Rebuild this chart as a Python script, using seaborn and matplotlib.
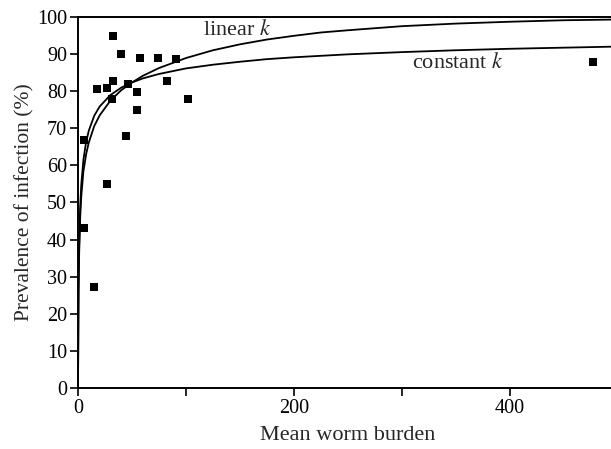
import matplotlib
matplotlib.use("Agg")
import matplotlib.pyplot as plt
import seaborn as sns
import pandas as pd

# Observed data (mean worm burden, prevalence %)
burden = [32.8, 40, 57.7, 74.4, 90.5, 17.4, 26.7, 32.8, 31.9, 46.5,
          54.9, 54.2, 82.5, 101.4, 44, 5.9, 27, 5.9, 15.2, 477]
prevalence = [95, 90, 88.9, 88.9, 88.8, 80.6, 81, 82.9, 78, 82.1,
              79.9, 75, 82.9, 78, 68, 67, 55.1, 43.1, 27.2, 88]

# Fitted curves
curve_x = [0, 0.5, 1, 2, 3, 5, 7.5, 10, 15, 20, 30, 40, 50, 60, 75, 100, 125,
           150, 175, 200, 225, 250, 300, 350, 400, 450, 500]
constant_k = [0, 26.7, 37.7, 48.6, 54.7, 61.5, 66.3, 69.4, 73.4, 75.9, 79.0, 81.0,
              82.4, 83.5, 84.7, 86.2, 87.2, 88.0, 88.7, 89.2, 89.6, 90.0, 90.6,
              91.1, 91.5, 91.8, 92.1]
linear_k = [0, 25.5, 35.6, 45.8, 51.5, 58.4, 63.0, 66.2, 70.6, 73.5, 77.5, 80.3,
            82.4, 84.2, 86.3, 89.0, 91.1, 92.7, 94.0, 95.0, 95.9, 96.5, 97.6,
            98.3, 98.8, 99.2, 99.4]

x_ticks = [0, 100, 200, 300, 400, 500]
x_tick_labels = ["0", "", "200", "", "400", ""]
y_ticks = list(range(0, 101, 10))

sns.set_theme(style="ticks")
plt.rcParams["font.family"] = ["Liberation Serif", "DejaVu Serif"]
plt.rcParams["mathtext.fontset"] = "stix"

fig = plt.figure(figsize=(6.11, 4.49), dpi=100)
ax = fig.add_axes([78 / 611, 0.1365, 540 / 611, 0.825])

pts = pd.DataFrame({"x": burden, "y": prevalence})
cur = pd.DataFrame({"x": curve_x, "c": constant_k, "l": linear_k})

sns.lineplot(data=cur, x="x", y="c", ax=ax, color="black", lw=1.3, sort=False)
sns.lineplot(data=cur, x="x", y="l", ax=ax, color="black", lw=1.3, sort=False)
sns.scatterplot(data=pts, x="x", y="y", ax=ax, marker="s", s=26, color="black",
                edgecolor="black", linewidth=0, zorder=5)

ax.set_xlim(0, 500)
ax.set_ylim(0, 100)
ax.set_xticks(x_ticks)
ax.set_xticklabels(x_tick_labels)
ax.set_yticks(y_ticks)
ax.tick_params(direction="out", length=6, width=1.2, colors="black",
               labelsize=14.5, pad=2)
for s in ["left", "bottom", "top", "right"]:
    ax.spines[s].set_linewidth(1.4)
    ax.spines[s].set_color("black")

ax.set_xlabel("Mean worm burden", fontsize=16, labelpad=6)
ax.set_ylabel("Prevalence of infection (%)", fontsize=15.5, labelpad=2)

ax.text(115.7, 96.6, "linear $k$", fontsize=16, va="center", ha="left")
ax.text(309, 87.7, "constant $k$", fontsize=16, va="center", ha="left")

fig.savefig("out.png", dpi=100)
